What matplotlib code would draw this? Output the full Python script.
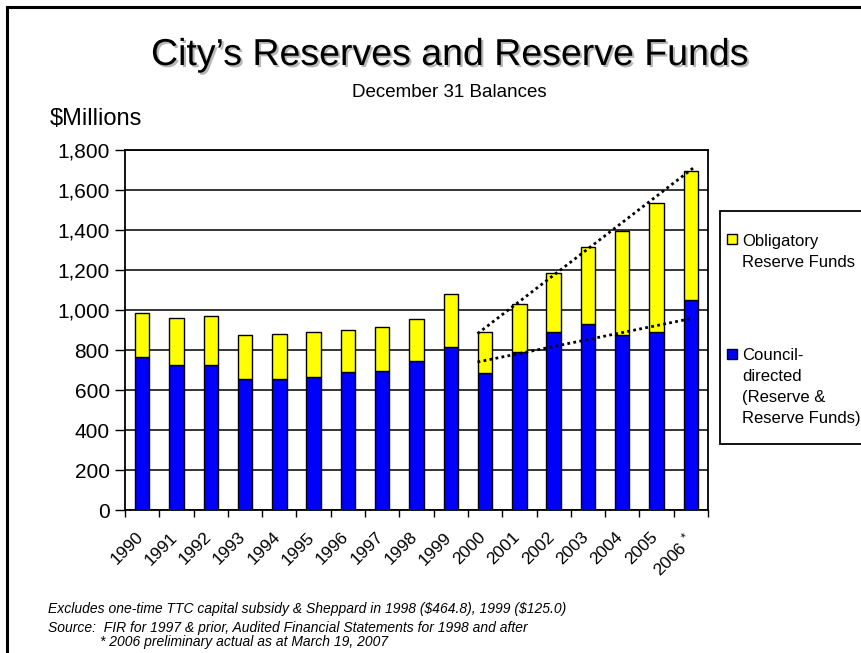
import matplotlib
matplotlib.use("Agg")
import matplotlib.pyplot as plt
import matplotlib.patheffects as pe
from matplotlib.patches import Rectangle
from matplotlib.lines import Line2D
from matplotlib.transforms import ScaledTranslation
import numpy as np

# ---- data ----
years = ['1990', '1991', '1992', '1993', '1994', '1995', '1996', '1997', '1998',
         '1999', '2000', '2001', '2002', '2003', '2004', '2005', '2006']
year_labels = ['1990', '1991', '1992', '1993', '1994', '1995', '1996', '1997', '1998',
               '1999', '2000', '2001', '2002', '2003', '2004', '2005', '2006 $^{*}$']
council = [763, 723, 723, 656, 656, 663, 690, 696, 743, 816,
           683, 790, 888, 928, 877, 888, 1049]
obligatory = [224, 239, 245, 219, 226, 225, 212, 219, 212, 264,
              205, 239, 299, 386, 519, 646, 644]
# hand-drawn dotted trend lines (values at the 2000 and 2006 ends)
trend_years = ['2000', '2006']
trend_total = [882, 1714]
trend_council = [740, 957]
y_ticks = [0, 200, 400, 600, 800, 1000, 1200, 1400, 1600, 1800]

W, H = 862, 653
plt.rcParams['font.family'] = ['Liberation Sans', 'DejaVu Sans']
plt.rcParams['mathtext.fontset'] = 'custom'
plt.rcParams['mathtext.rm'] = 'Liberation Sans'
plt.rcParams['mathtext.it'] = 'Liberation Sans'

fig = plt.figure(figsize=(W / 100, H / 100), dpi=100)
fig.patch.set_facecolor('white')

def fx(px):
    return px / W

def fy(py):
    return 1 - py / H

ax = fig.add_axes([fx(125), fy(510), fx(708) - fx(125), fy(150) - fy(510)])

x = np.arange(len(years))
bw = 0.42
ax.bar(x, council, bw, color='#0000FF', edgecolor='black', linewidth=1, zorder=3)
ax.bar(x, obligatory, bw, bottom=council, color='#FFFF00', edgecolor='black',
       linewidth=1, zorder=3)

# trend lines
i0 = years.index(trend_years[0])
i1 = years.index(trend_years[1])
ax.plot([i0 - 0.22, i1 + 0.1], trend_total, color='black', lw=2,
        linestyle=(0, (1, 1.2)), zorder=4, dash_capstyle='butt')
ax.plot([i0 - 0.22, i1], trend_council, color='black', lw=2,
        linestyle=(0, (1, 1.2)), zorder=4, dash_capstyle='butt')

ax.set_xlim(-0.5, len(years) - 0.5)
ax.set_ylim(0, 1800)
ax.set_yticks(y_ticks)
ax.set_yticklabels([f"{v:,}" for v in y_ticks], fontsize=15)
ax.yaxis.grid(True, color='black', lw=1.1, zorder=0)
ax.set_axisbelow(True)

ax.set_xticks(np.arange(-0.5, len(years), 1.0))
ax.set_xticklabels([])
ax.set_xticks(x, minor=True)
ax.set_xticklabels(year_labels, minor=True, fontsize=12.5, rotation=45,
                   ha='right', va='top', rotation_mode='anchor')
ax.tick_params(axis='x', which='major', length=5, width=1, direction='out')
ax.tick_params(axis='x', which='minor', length=0, pad=14)
ax.tick_params(axis='y', length=7, width=1, direction='out', pad=4)
off = ScaledTranslation(-7 / 100, 0, fig.dpi_scale_trans)
for lab in ax.get_xticklabels(minor=True):
    lab.set_transform(lab.get_transform() + off)

for s in ax.spines.values():
    s.set_color('black')
    s.set_linewidth(1.3)

# ---- titles ----
fig.text(fx(450), fy(65), "City\u2019s Reserves and Reserve Funds", fontsize=27,
         ha='center', va='baseline',
         path_effects=[pe.withSimplePatchShadow(offset=(1.5, -1.5),
                                                shadow_rgbFace='#888888', alpha=0.6)])
fig.text(fx(449), fy(97), "December 31 Balances", fontsize=13.5,
         ha='center', va='baseline')
fig.text(fx(50), fy(125), "\\$Millions", fontsize=17, ha='left', va='baseline')

# ---- legend (manual, clipped by right edge like reference) ----
fig.patches.append(Rectangle((fx(720), fy(444)), fx(880) - fx(720), fy(211) - fy(444),
                             transform=fig.transFigure, facecolor='white',
                             edgecolor='black', lw=1.3, zorder=1))
fig.patches.append(Rectangle((fx(727), fy(244)), fx(10), fy(234) - fy(244),
                             transform=fig.transFigure, facecolor='#FFFF00',
                             edgecolor='black', lw=1, zorder=2))
fig.patches.append(Rectangle((fx(727), fy(359)), fx(10), fy(349) - fy(359),
                             transform=fig.transFigure, facecolor='#0000FF',
                             edgecolor='black', lw=1, zorder=2))
leg1 = ["Obligatory", "Reserve Funds"]
leg2 = ["Council-", "directed", "(Reserve &", "Reserve Funds)"]
for k, t in enumerate(leg1):
    fig.text(fx(742), fy(246 + 21 * k), t, fontsize=12, ha='left', va='baseline')
for k, t in enumerate(leg2):
    fig.text(fx(742), fy(360 + 21 * k), t, fontsize=12, ha='left', va='baseline')

# ---- footnotes ----
fig.text(fx(48), fy(613), "Excludes one-time TTC capital subsidy & Sheppard in 1998 (\\$464.8), 1999 (\\$125.0)",
         fontsize=10, style='italic', ha='left', va='baseline')
fig.text(fx(48), fy(632), "Source:  FIR for 1997 & prior, Audited Financial Statements for 1998 and after",
         fontsize=10, style='italic', ha='left', va='baseline')
fig.text(fx(100), fy(646), "* 2006 preliminary actual as at March 19, 2007",
         fontsize=10, style='italic', ha='left', va='baseline')

# ---- slide frame (top and left edges) ----
fig.add_artist(Line2D([fx(7), fx(W + 5)], [fy(7), fy(7)], color='black', lw=2.2,
                      transform=fig.transFigure))
fig.add_artist(Line2D([fx(7), fx(7)], [fy(7), fy(H + 5)], color='black', lw=2.2,
                      transform=fig.transFigure))

fig.savefig("out.png", dpi=100)
